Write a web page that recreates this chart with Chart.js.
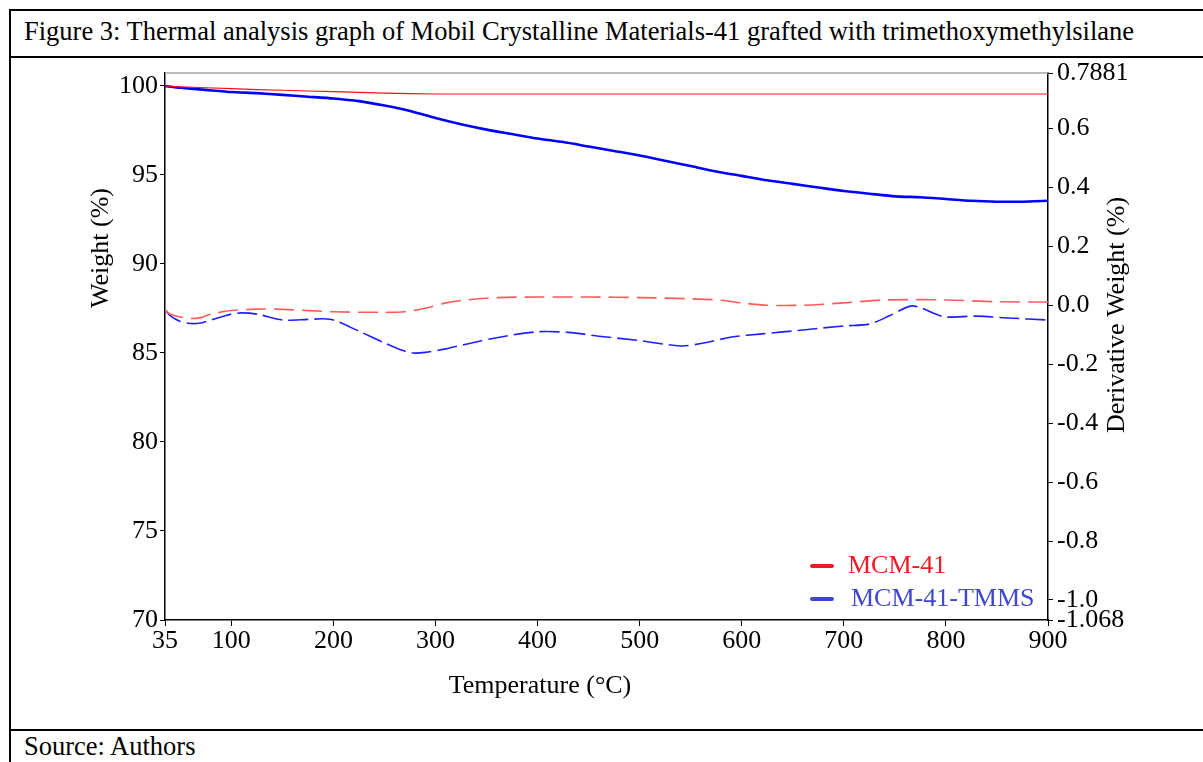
<!DOCTYPE html>
<html>
<head>
<meta charset="utf-8">
<script src="https://cdn.jsdelivr.net/npm/chart.js@4"></script>
<style>
  body { margin:0; background:#fff; width:1203px; height:762px; overflow:hidden; position:relative; font-family:"Liberation Serif","Times New Roman",serif; }
  .ln { position:absolute; background:#000; }
  .txt { position:absolute; left:24px; font-size:26.5px; line-height:30px; color:#000; white-space:nowrap; }
  #chart { position:absolute; left:0; top:0; }
</style>
</head>
<body>
<div class="ln" style="left:9px;top:9px;width:1194px;height:2px"></div>
<div class="ln" style="left:9px;top:9px;width:2px;height:753px"></div>
<div class="ln" style="left:9px;top:56px;width:1194px;height:2px"></div>
<div class="ln" style="left:9px;top:729px;width:1194px;height:2px"></div>
<div class="txt" style="top:16px">Figure 3: Thermal analysis graph of Mobil Crystalline Materials-41 grafted with trimethoxymethylsilane</div>
<div class="txt" style="top:731px">Source: Authors</div>
<canvas id="chart" width="1203" height="762"></canvas>
<script>
// axis ticks
var xTicks = [35, 100, 200, 300, 400, 500, 600, 700, 800, 900];
var leftTicks = [70, 75, 80, 85, 90, 95, 100];
var rightTicks = [0.7881, 0.6, 0.4, 0.2, 0.0, -0.2, -0.4, -0.6, -0.8, -1.0, -1.068];
var rightLabels = ['0.7881', '0.6', '0.4', '0.2', '0.0', '-0.2', '-0.4', '-0.6', '-0.8', '-1.0', '-1.068'];

// weight curves (%)
var wtTemp = [35, 50, 75, 100, 125, 150, 175, 200, 225, 250, 275, 300, 325, 350, 375, 400, 425, 450, 475, 500,
              525, 550, 575, 600, 625, 650, 675, 700, 725, 750, 775, 800, 825, 850, 875, 900];
var wtMCM = [100.0, 99.95, 99.9, 99.85, 99.8, 99.76, 99.72, 99.68, 99.64, 99.6, 99.57, 99.55, 99.55, 99.55, 99.55, 99.55, 99.55, 99.55, 99.55, 99.55,
             99.55, 99.55, 99.55, 99.55, 99.55, 99.55, 99.55, 99.55, 99.55, 99.55, 99.55, 99.55, 99.55, 99.55, 99.55, 99.55];
var wtTMMS = [100.0, 99.9, 99.78, 99.66, 99.6, 99.5, 99.4, 99.3, 99.15, 98.9, 98.6, 98.2, 97.85, 97.55, 97.3, 97.05, 96.85, 96.6, 96.35, 96.1,
              95.8, 95.5, 95.2, 94.95, 94.7, 94.5, 94.3, 94.1, 93.95, 93.8, 93.75, 93.65, 93.55, 93.5, 93.5, 93.55];

// derivative weight curves
var dTempMCM = [35, 40, 50, 60, 70, 80, 100, 125, 150, 200, 250, 270, 290, 310, 330, 360, 400, 450, 500, 550,
                580, 600, 625, 660, 700, 740, 800, 850, 900];
var dMCM = [-0.016, -0.03, -0.04, -0.045, -0.042, -0.03, -0.018, -0.013, -0.014, -0.022, -0.024, -0.022, -0.01, 0.008, 0.018, 0.026, 0.028, 0.028, 0.026, 0.022,
            0.017, 0.008, 0.0, 0.0, 0.008, 0.018, 0.018, 0.012, 0.011];
var dTempTMMS = [35, 40, 50, 60, 70, 80, 90, 100, 110, 125, 150, 175, 190, 200, 225, 250, 265, 278, 290, 310,
                 330, 360, 400, 430, 460, 500, 540, 560, 590, 620, 660, 700, 725, 745, 765, 775, 790, 800, 830, 860, 900];
var dTMMS = [-0.015, -0.035, -0.055, -0.062, -0.06, -0.05, -0.04, -0.03, -0.026, -0.03, -0.05, -0.048, -0.046, -0.05, -0.088, -0.128, -0.15, -0.162, -0.16, -0.148,
             -0.132, -0.11, -0.09, -0.092, -0.105, -0.12, -0.138, -0.13, -0.108, -0.097, -0.084, -0.07, -0.064, -0.035, -0.003, -0.008, -0.03, -0.04, -0.037, -0.043, -0.05];

var serif = '"Liberation Serif", "Times New Roman", serif';

function pts(xs, ys) {
  return xs.map(function (x, i) { return { x: x, y: ys[i] }; });
}

var extras = {
  id: 'extras',
  afterDraw: function (chart) {
    var ctx = chart.ctx, a = chart.chartArea;
    ctx.save();
    // grey top frame
    ctx.strokeStyle = '#a6a6a6';
    ctx.lineWidth = 1.5;
    ctx.beginPath(); ctx.moveTo(a.left, a.top); ctx.lineTo(a.right, a.top); ctx.stroke();

    // axis titles
    ctx.fillStyle = '#000';
    ctx.font = '26px ' + serif;
    ctx.textAlign = 'center';
    ctx.textBaseline = 'middle';
    ctx.fillText('Temperature (°C)', 540, 686);
    ctx.save(); ctx.translate(101, 248); ctx.rotate(-Math.PI / 2); ctx.fillText('Weight (%)', 0, 0); ctx.restore();
    ctx.save(); ctx.translate(1117, 315); ctx.rotate(-Math.PI / 2); ctx.fillText('Derivative Weight (%)', 0, 0); ctx.restore();

    // legend
    var items = [['MCM-41', '#ec1c24', 566], ['MCM-41-TMMS', '#3f48cc', 599]];
    ctx.textAlign = 'left';
    ctx.lineCap = 'round';
    ctx.lineWidth = 4;
    items.forEach(function (it) {
      ctx.strokeStyle = it[1];
      ctx.beginPath(); ctx.moveTo(812, it[2]); ctx.lineTo(832, it[2]); ctx.stroke();
      ctx.fillStyle = it[1];
      ctx.fillText(it[0], it[0] === 'MCM-41' ? 848 : 851, it[2]);
    });
    ctx.restore();
  }
};

var tickFont = { family: serif, size: 26 };

new Chart(document.getElementById('chart'), {
  type: 'line',
  data: {
    datasets: [
      { label: 'MCM-41', data: pts(wtTemp, wtMCM), yAxisID: 'y', borderColor: '#ff1010', borderWidth: 1.2, pointRadius: 0, tension: 0 },
      { label: 'MCM-41-TMMS', data: pts(wtTemp, wtTMMS), yAxisID: 'y', borderColor: '#0000ff', borderWidth: 2.6, pointRadius: 0, tension: 0.2 },
      { label: 'MCM-41 deriv', data: pts(dTempMCM, dMCM), yAxisID: 'y2', borderColor: '#ff5a5a', borderWidth: 1.6, borderDash: [20, 8], pointRadius: 0, tension: 0.3 },
      { label: 'MCM-41-TMMS deriv', data: pts(dTempTMMS, dTMMS), yAxisID: 'y2', borderColor: '#2020ff', borderWidth: 1.6, borderDash: [20, 6], pointRadius: 0, tension: 0.3 }
    ]
  },
  options: {
    responsive: false,
    animation: false,
    layout: { padding: { top: 73, left: 88, right: 0, bottom: 62 } },
    plugins: { legend: { display: false }, tooltip: { enabled: false } },
    scales: {
      x: {
        type: 'linear', min: 35, max: 900, position: 'bottom',
        afterBuildTicks: function (s) { s.ticks = xTicks.map(function (v) { return { value: v }; }); },
        afterFit: function (s) { s.height = 80; },
        ticks: { font: tickFont, color: '#000', padding: 0, maxRotation: 0, autoSkip: false },
        grid: { drawOnChartArea: false, tickLength: 6, color: '#000' },
        border: { color: '#000', width: 1.5 }
      },
      y: {
        position: 'left', min: 70, max: 100.73,
        afterBuildTicks: function (s) { s.ticks = leftTicks.map(function (v) { return { value: v }; }); },
        afterFit: function (s) { s.width = 77; },
        ticks: { font: tickFont, color: '#000', padding: 2, autoSkip: false },
        grid: { drawOnChartArea: false, tickLength: 5, color: '#000' },
        border: { color: '#000', width: 1.5 }
      },
      y2: {
        position: 'right', min: -1.068, max: 0.7881,
        afterBuildTicks: function (s) { s.ticks = rightTicks.map(function (v) { return { value: v }; }); },
        afterFit: function (s) { s.width = 155; },
        ticks: {
          font: tickFont, color: '#000', padding: 4, autoSkip: false,
          callback: function (v, i) { return rightLabels[i]; }
        },
        grid: { drawOnChartArea: false, tickLength: 5, color: '#000' },
        border: { color: '#000', width: 1.5 }
      }
    }
  },
  plugins: [extras]
});
</script>
</body>
</html>
